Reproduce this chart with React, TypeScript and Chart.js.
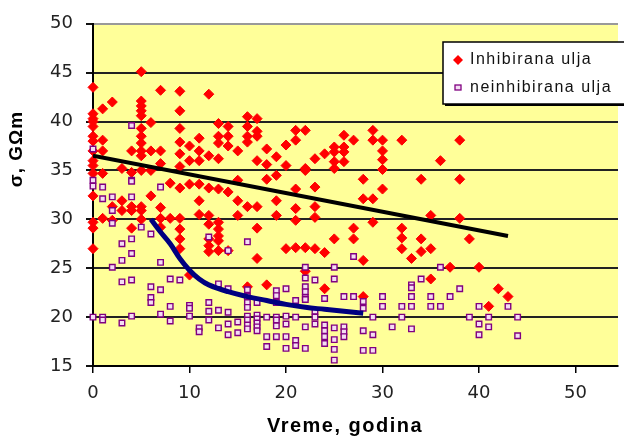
import { useEffect, useRef } from "react";
import { Chart, registerables } from "chart.js";

Chart.register(...registerables);

// Axis ranges and ticks
const xMin = 0;
const xMax = 54.4;
const xStep = 10;
const yMin = 15;
const yMax = 50;
const yStep = 5;

const seriesNames = ["Inhibirana ulja", "neinhibirana ulja"];
const xTitle = "Vreme, godina";
const yTitle = "σ, GΩm";

// Inhibited oils: [years, measured σ values]
const inhibirana: [number, number[]][] = [
  [0, [43.5, 40.8, 40.3, 40, 39.5, 38.5, 38, 37, 36, 35.5, 34.7, 32.4, 29.7, 29.1, 27]],
  [1, [41.3, 38.1, 37, 34.7, 30.1]],
  [2, [42, 31.3, 29.9]],
  [3, [35.2, 31.9, 30.9]],
  [4, [37, 34.8, 31.3, 30.9, 29.1]],
  [5, [45.1, 42.1, 41.6, 41.1, 40.6, 39.3, 38.5, 37.8, 37, 36.5, 35, 31.3, 30.9, 30]],
  [6, [39.9, 37, 35, 32.4]],
  [7, [43.2, 37, 35.7, 31.2, 30.1, 29.2]],
  [8, [33.7, 30.1]],
  [9, [43.1, 41.1, 39.3, 37.9, 36.7, 35.4, 33.2, 30.1, 29, 28, 27]],
  [10, [37.5, 36, 33.6, 24.3]],
  [11, [38.3, 37, 36, 33.6, 31.9, 30.5]],
  [12, [42.8, 36.5, 33.2, 30.4, 29.5, 28, 27.3, 26.7]],
  [13, [39.8, 38.5, 37.8, 36.2, 33.1, 29.7, 29, 28.3, 27.8, 26.8]],
  [14, [39.5, 38.5, 37.5, 32.8, 26.8]],
  [15, [37, 34, 31.9, 30.4]],
  [16, [40.5, 39.5, 38.5, 37.9, 31.3, 23.1]],
  [17, [40.3, 39, 38.5, 36, 31.3, 29.1, 26]],
  [18, [37.2, 35.6, 34.1, 23.3]],
  [19, [36.4, 34.5, 31.9, 30.4]],
  [20, [37.6, 35.5, 27]],
  [21, [39.1, 38.1, 33.1, 31.1, 29.9, 27.1]],
  [22, [39.1, 35.2, 35, 27.1, 24.7]],
  [23, [36.2, 33.3, 31.3, 30.2, 27]],
  [24, [36.7, 26.6, 22.9]],
  [25, [37.4, 36.9, 35.9, 35.2, 28]],
  [26, [38.6, 37.4, 36.9, 35.9]],
  [27, [38.1, 29.1, 28]],
  [28, [34.1, 32.1, 25.8, 22.1]],
  [29, [39.1, 38.1, 32.1, 29.7]],
  [30, [38.1, 37, 36.1, 35.1, 33.1]],
  [32, [38.1, 29.1, 28.1, 27]],
  [33, [26]],
  [34, [34.1, 28, 26.7]],
  [35, [30.4, 27, 23.9]],
  [36, [36]],
  [37, [25.1]],
  [38, [38.1, 34.1, 30.1]],
  [39, [28]],
  [40, [25.1]],
  [41, [21.1]],
  [42, [22.9]],
  [43, [22.1]],
];

// Non-inhibited oils: [years, measured σ values]
const neinhibirana: [number, number[]][] = [
  [0, [37.2, 34, 33.4, 20]],
  [1, [33.3, 32.1, 20, 19.7]],
  [2, [32.3, 30.9, 29.6, 25.1]],
  [3, [27.5, 25.8, 23.6, 19.4]],
  [4, [39.6, 34, 33.9, 32.3, 28, 26.5, 23.8, 20.1]],
  [5, [29.2]],
  [6, [28.5, 23.1, 22, 21.5]],
  [7, [33.3, 25.6, 22.8, 20.3]],
  [8, [23.9, 21.1, 19.6]],
  [9, [23.8]],
  [10, [21.2, 20.9, 20.1]],
  [11, [18.9, 18.5]],
  [12, [28.2, 21.5, 20.6, 19.7]],
  [13, [23.4, 20.7, 18.9]],
  [14, [26.8, 22.9, 20.5, 19.3, 18.2]],
  [15, [19.5, 18.4]],
  [16, [27.7, 22.8, 22.1, 21.5, 21, 20.1, 19.7, 19.2, 18.8]],
  [17, [21.5, 20.2, 19.8, 19.4, 19, 18.6]],
  [18, [20, 18, 17]],
  [19, [22.7, 22.2, 21.5, 20, 19.7, 19.1, 18]],
  [20, [22.9, 20.1, 19.3, 18, 16.8]],
  [21, [21.7, 20, 17.6, 17.1]],
  [22, [25.1, 24, 23.1, 22.6, 22, 21.8, 19, 16.8]],
  [23, [23.8, 20.6, 20, 19.3]],
  [24, [21.9, 19.2, 18.6, 18, 17.3]],
  [25, [25.1, 23.9, 18.9, 17.7, 16.7, 15.6]],
  [26, [22.1, 19, 18.5, 18]],
  [27, [26.2, 22.1]],
  [28, [21.6, 20.9, 18.6, 16.6]],
  [29, [20, 18.2, 16.6]],
  [30, [22.1, 21.1]],
  [31, [19]],
  [32, [21.1, 20]],
  [33, [23.3, 23, 22.1, 21.1, 18.8]],
  [34, [23.9]],
  [35, [22.1, 21.1]],
  [36, [25.1, 21.1]],
  [37, [22.1]],
  [38, [22.9]],
  [39, [20]],
  [40, [21.1, 19.3, 18.2]],
  [41, [20, 19]],
  [43, [21.1]],
  [44, [20, 18.1]],
];

// Linear trend of the inhibited oils
const trendInhX = [0, 43];
const trendInhY = [36.5, 28.3];

// Decay trend of the non-inhibited oils
const trendNeinhX = [6, 7, 8, 9, 10, 11, 12, 14, 16, 18, 20, 22, 24, 26, 28];
const trendNeinhY = [30, 28.7, 27.5, 26.0, 24.8, 23.9, 23.3, 22.6, 22.1, 21.7, 21.3, 21.0, 20.8, 20.6, 20.4];

const RED = "#FF0000";
const PURPLE = "#800080";
const PURPLE_FILL = "#F4DDF4";
const NAVY = "#000080";
const PLOT_BG = "#FFFF99";

const toPoints = (groups: [number, number[]][]) =>
  groups.flatMap(([x, ys]) => ys.map((y) => ({ x, y })));

const zipPoints = (xs: number[], ys: number[]) => xs.map((x, i) => ({ x, y: ys[i] }));

const plotBackground = {
  id: "plotBackground",
  beforeDraw(chart: any) {
    const { ctx, chartArea } = chart;
    ctx.save();
    ctx.fillStyle = PLOT_BG;
    ctx.fillRect(chartArea.left, chartArea.top, chartArea.right - chartArea.left, chartArea.bottom - chartArea.top);
    ctx.restore();
  },
};

const axisTitles = {
  id: "axisTitles",
  afterDraw(chart: any) {
    const { ctx } = chart;
    ctx.save();
    ctx.fillStyle = "#000";
    ctx.textAlign = "center";
    ctx.textBaseline = "middle";
    (ctx as any).letterSpacing = "1.5px";
    ctx.font = 'bold 20px "Liberation Sans", Arial, sans-serif';
    ctx.fillText(xTitle, 345, 426);
    (ctx as any).letterSpacing = "1px";
    ctx.font = 'bold 19px "Liberation Sans", Arial, sans-serif';
    ctx.translate(17, 149);
    ctx.rotate(-Math.PI / 2);
    ctx.fillText(yTitle, 0, 0);
    ctx.restore();
  },
};

const boxLegend = {
  id: "boxLegend",
  afterDraw(chart: any) {
    const { ctx } = chart;
    const left = 443;
    const top = 42;
    const w = 200;
    const h = 62;
    ctx.save();
    ctx.fillStyle = "#000";
    ctx.fillRect(left + 2, top + 2, w, h);
    ctx.fillStyle = "#fff";
    ctx.fillRect(left, top, w, h);
    ctx.strokeStyle = "#000";
    ctx.lineWidth = 1.5;
    ctx.strokeRect(left, top, w, h);

    // markers
    ctx.fillStyle = RED;
    ctx.beginPath();
    ctx.moveTo(458, 55);
    ctx.lineTo(463, 60);
    ctx.lineTo(458, 65);
    ctx.lineTo(453, 60);
    ctx.closePath();
    ctx.fill();

    ctx.fillStyle = PURPLE_FILL;
    ctx.strokeStyle = PURPLE;
    ctx.lineWidth = 1.3;
    ctx.fillRect(455, 85, 6, 5);
    ctx.strokeRect(455, 85, 6, 5);

    ctx.fillStyle = "#111";
    ctx.textAlign = "left";
    ctx.textBaseline = "middle";
    (ctx as any).letterSpacing = "1.5px";
    ctx.font = '16px "Liberation Sans", Arial, sans-serif';
    ctx.fillText(seriesNames[0], 470, 60);
    ctx.fillText(seriesNames[1], 470, 88);
    ctx.restore();
  },
};

export default function App() {
  const canvasRef = useRef<HTMLCanvasElement | null>(null);

  useEffect(() => {
    const canvas = canvasRef.current;
    if (!canvas) return;
    const tickFont = { family: '"DejaVu Sans", Verdana, sans-serif', size: 18 };

    const chart = new Chart(canvas, {
      type: "scatter",
      data: {
        datasets: [
          {
            label: "trend-neinh",
            data: zipPoints(trendNeinhX, trendNeinhY),
            showLine: true,
            borderColor: NAVY,
            borderWidth: 5,
            pointRadius: 0,
            tension: 0.4,
            order: 0,
          },
          {
            label: "trend-inh",
            data: zipPoints(trendInhX, trendInhY),
            showLine: true,
            borderColor: "#000",
            borderWidth: 4,
            pointRadius: 0,
            order: 1,
          },
          {
            label: seriesNames[1],
            data: toPoints(neinhibirana),
            pointStyle: "rect",
            pointRadius: 3.9,
            backgroundColor: PURPLE_FILL,
            borderColor: PURPLE,
            borderWidth: 1.4,
            clip: false,
            order: 2,
          },
          {
            label: seriesNames[0],
            data: toPoints(inhibirana),
            pointStyle: "rectRot",
            pointRadius: 5,
            backgroundColor: RED,
            borderColor: RED,
            borderWidth: 1,
            clip: false,
            order: 3,
          },
        ],
      },
      options: {
        responsive: false,
        animation: false,
        layout: { padding: { top: 22, right: 0, bottom: 0, left: 0 } },
        plugins: {
          legend: { display: false },
          tooltip: { enabled: false },
          title: { display: false },
        },
        scales: {
          x: {
            type: "linear",
            min: xMin,
            max: xMax,
            afterFit: (scale: any) => {
              scale.height = 71;
            },
            ticks: {
              stepSize: xStep,
              includeBounds: false,
              font: tickFont,
              color: "#222",
              padding: 10,
              maxRotation: 0,
            },
            grid: {
              drawOnChartArea: false,
              drawTicks: true,
              tickLength: 7,
              color: "#000",
              lineWidth: 1.5,
            },
            border: { color: "#000", width: 2 },
          },
          y: {
            type: "linear",
            min: yMin,
            max: yMax,
            afterFit: (scale: any) => {
              scale.width = 93;
            },
            ticks: {
              stepSize: yStep,
              font: tickFont,
              color: "#222",
              padding: 13,
            },
            grid: {
              color: (c: any) => (c.tick && c.tick.value === yMax ? "#999" : "#222"),
              tickColor: "#111",
              lineWidth: 2,
              tickLength: 7,
            },
            border: { color: "#000", width: 2 },
          },
        },
      },
      plugins: [plotBackground, axisTitles, boxLegend],
    } as any);

    return () => chart.destroy();
  }, []);

  return (
    <div style={{ position: "absolute", left: 0, top: 0, width: 624, height: 437, background: "#fff" }}>
      <canvas ref={canvasRef} width={624} height={437} style={{ display: "block" }} />
    </div>
  );
}
